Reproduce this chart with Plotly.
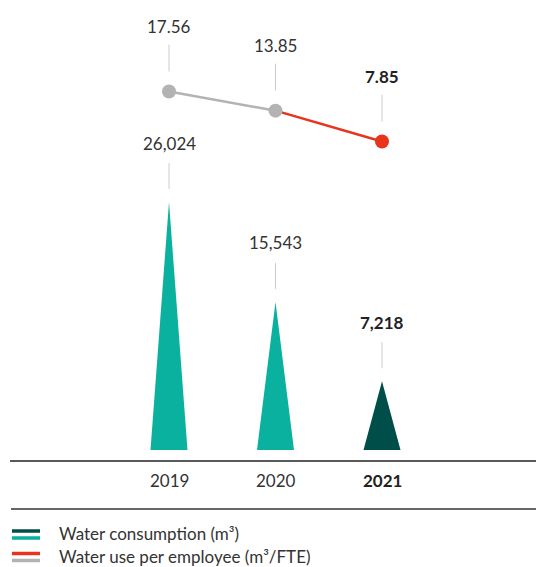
import plotly.graph_objects as go

# Data
years = ["2019", "2020", "2021"]
consumption = [26024, 15543, 7218]          # m3
per_employee = [17.56, 13.85, 7.85]          # m3/FTE
bold_year = "2021"

W, H = 536, 567
FONT = "Lato"
FS = 17
TEXT = "#333333"
TEAL = "#0bb19f"
DARK_TEAL = "#004e4a"
RED = "#e8341c"
GREY = "#b3b3b3"
LEADER = "#cccccc"

# Pixel-based axis calibration helpers
def py(px):
    """paper y from pixel y (top origin)"""
    return 1 - px / H

def px_x(px):
    return px / W

fig = go.Figure()

# x-axis: category index 0..2, 106.5 px apart, first at x=169 px
unit_px = 106.5
x0_px = 169
x_range = [-x0_px / unit_px, (W - x0_px) / unit_px]

# bar axis: value 0 at y=450 px
bar_scale = 248 / 26024
y_range = [-(H - 450) / bar_scale, 450 / bar_scale]
# line axis: value 0 at y=182 px
line_scale = 5.15
y2_range = [-(H - 182) / line_scale, 182 / line_scale]

half_w = 18.5 / unit_px

for i, (yr, v) in enumerate(zip(years, consumption)):
    color = DARK_TEAL if yr == bold_year else TEAL
    fig.add_trace(go.Scatter(
        x=[i - half_w, i, i + half_w, i - half_w],
        y=[0, v, 0, 0],
        mode="lines", fill="toself", fillcolor=color,
        line=dict(width=0, color=color), hoverinfo="skip", showlegend=False,
    ))

# line segments: grey for earlier years, red into the latest year
idx = list(range(len(years)))
fig.add_trace(go.Scatter(
    x=idx[:2], y=per_employee[:2], yaxis="y2", mode="lines",
    line=dict(color=GREY, width=2.5), showlegend=False, hoverinfo="skip"))
fig.add_trace(go.Scatter(
    x=idx[1:], y=per_employee[1:], yaxis="y2", mode="lines",
    line=dict(color=RED, width=2.5), showlegend=False, hoverinfo="skip"))
fig.add_trace(go.Scatter(
    x=idx, y=per_employee, yaxis="y2", mode="markers",
    marker=dict(size=14, color=[GREY, GREY, RED]),
    showlegend=False, hoverinfo="skip"))

annotations = []
shapes = []

def fmt(t, bold):
    return f"<b>{t}</b>" if bold else t

for i, (yr, v, p) in enumerate(zip(years, consumption, per_employee)):
    b = yr == bold_year
    annotations.append(dict(
        x=i, y=v, xref="x", yref="y", yshift=59, text=fmt(f"{v:,}", b),
        showarrow=False, yanchor="middle",
        font=dict(family=FONT, size=FS, color="#222" if b else TEXT)))
    shapes.append(dict(
        type="line", xref="x", yref="y", ysizemode="pixel", yanchor=v,
        x0=i, x1=i, y0=13, y1=39, line=dict(color=LEADER, width=1)))
    annotations.append(dict(
        x=i, y=p, xref="x", yref="y2", yshift=65, text=fmt(f"{p:.2f}", b),
        showarrow=False, yanchor="middle",
        font=dict(family=FONT, size=FS, color="#222" if b else TEXT)))
    shapes.append(dict(
        type="line", xref="x", yref="y2", ysizemode="pixel", yanchor=p,
        x0=i, x1=i, y0=20, y1=47, line=dict(color=LEADER, width=1)))
    annotations.append(dict(
        x=i, y=py(480), xref="x", yref="paper", text=fmt(yr, b),
        showarrow=False, yanchor="middle",
        font=dict(family=FONT, size=FS, color="#222" if b else TEXT)))

# baseline and bottom rule
shapes.append(dict(type="line", xref="paper", yref="paper",
                   x0=px_x(10), x1=1, y0=py(461), y1=py(461),
                   line=dict(color="#222222", width=1.5)))
shapes.append(dict(type="line", xref="paper", yref="paper",
                   x0=px_x(11), x1=1, y0=py(509), y1=py(509),
                   line=dict(color="#333333", width=1.5)))

# legend: label, swatch colours, swatch centre y, label centre y
legend_items = [
    ("Water consumption (m³)", DARK_TEAL, TEAL, 534.5, 533),
    ("Water use per employee (m³/FTE)", RED, GREY, 557, 556),
]
for label, c1, c2, ys, yt in legend_items:
    for c, dy in ((c1, -3.5), (c2, 3.5)):
        shapes.append(dict(type="line", xref="paper", yref="paper",
                           x0=px_x(12), x1=px_x(40), y0=py(ys + dy), y1=py(ys + dy),
                           line=dict(color=c, width=3.5)))
    annotations.append(dict(
        x=px_x(58), y=py(yt), xref="paper", yref="paper", text=label,
        showarrow=False, xanchor="left", yanchor="middle", borderpad=0,
        font=dict(family=FONT, size=FS, color=TEXT)))

fig.update_layout(
    width=W, height=H,
    margin=dict(l=0, r=0, t=0, b=0),
    paper_bgcolor="white", plot_bgcolor="white",
    xaxis=dict(range=x_range, visible=False, fixedrange=True),
    yaxis=dict(range=y_range, visible=False, fixedrange=True),
    yaxis2=dict(range=y2_range, visible=False, overlaying="y", fixedrange=True),
    annotations=annotations, shapes=shapes, showlegend=False,
)

fig.write_html("out.html", config={"displayModeBar": False})
